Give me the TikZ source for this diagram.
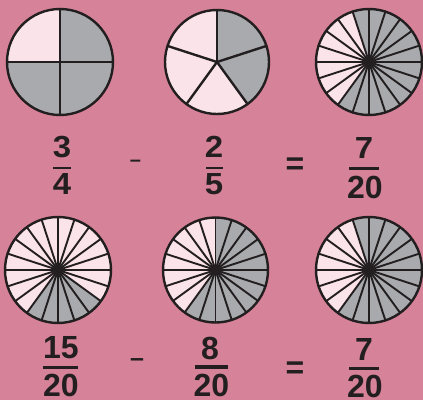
\documentclass[tikz,border=0pt]{standalone}
\usepackage{fontspec}
\setmainfont{Liberation Sans}
\begin{document}
\begin{tikzpicture}[x=1pt,y=1pt]
\definecolor{bg}{RGB}{214,130,152}
\definecolor{lpink}{RGB}{251,228,233}
\definecolor{dgray}{RGB}{168,170,173}
\definecolor{ink}{RGB}{35,31,32}
\tikzset{
  outline/.style={draw=ink, line width=2.4pt},
  spoke/.style={draw=ink, line width=1.9pt, line cap=round},
  fbar/.style={draw=ink, line width=3pt},
  numA/.style={font=\fontsize{30.5}{30.5}\selectfont\bfseries, text=ink, inner sep=0pt, xscale=1.08},
  numB/.style={font=\fontsize{32}{32}\selectfont\bfseries, text=ink, inner sep=0pt},
  opsym/.style={text=ink, inner sep=0pt, anchor=north},
}
\fill[bg] (0,0) rectangle (423,400);
\useasboundingbox (0,0) rectangle (423,400);

% centres
\coordinate (c1) at (60,338);
\coordinate (c2) at (217,338);
\coordinate (c3) at (369,338);
\coordinate (c4) at (58,130);
\coordinate (c5) at (215.5,130);
\coordinate (c6) at (369,130);

% circle 1: quarters
\fill[lpink] (c1) circle (53pt);
\fill[dgray] (c1) -- ++(180:53pt) arc (180:450:53pt) -- cycle;
\foreach \a in {0,90,180,270} \draw[spoke, line width=2.6pt] (c1) -- ++(\a:53pt);
\draw[outline] (c1) circle (53pt);

% circle 2: fifths
\fill[lpink] (c2) circle (52pt);
\fill[dgray] (c2) -- ++(-54:52pt) arc (-54:90:52pt) -- cycle;
\foreach \k in {0,...,4} \draw[spoke, line width=2.4pt] (c2) -- ++({90-72*\k}:52pt);
\draw[outline] (c2) circle (52pt);

% circle 3: twentieths
\fill[dgray] (c3) circle (53pt);
\fill[lpink] (c3) -- ++(108:53pt) arc (108:234:53pt) -- cycle;
\foreach \k in {0,...,19} \draw[spoke] (c3) -- ++({90+18*\k}:53pt);
\fill[ink] (c3) circle (5.5pt);
\draw[outline] (c3) circle (53pt);

% circle 4
\fill[lpink] (c4) circle (53pt);
\fill[dgray] (c4) -- ++(234:53pt) arc (234:324:53pt) -- cycle;
\foreach \k in {0,...,19} \draw[spoke] (c4) -- ++({90+18*\k}:53pt);
\fill[ink] (c4) circle (5.5pt);
\draw[outline] (c4) circle (53pt);

% circle 5
\fill[dgray] (c5) circle (52.5pt);
\fill[lpink] (c5) -- ++(90:52.5pt) arc (90:234:52.5pt) -- cycle;
\foreach \k in {0,...,19} \draw[spoke] (c5) -- ++({90+18*\k}:52.5pt);
\fill[ink] (c5) circle (5.5pt);
\draw[outline] (c5) circle (52.5pt);

% circle 6
\fill[dgray] (c6) circle (53pt);
\fill[lpink] (c6) -- ++(108:53pt) arc (108:234:53pt) -- cycle;
\foreach \k in {0,...,19} \draw[spoke] (c6) -- ++({90+18*\k}:53pt);
\fill[ink] (c6) circle (5.5pt);
\draw[outline] (c6) circle (53pt);

% row 1 fractions
\node[numA] (n1) at (62,253) {3};
\node[numA] (d1) at (62,215.5) {4};
\draw[fbar, line width=2.7pt] (53.3,232) -- (70.7,232);
\node[opsym, font=\fontsize{20}{20}\selectfont\bfseries] (m1) at (135.5,240.3) {–};
\node[numA] (n2) at (214,253) {2};
\node[numA] (d2) at (214,215.5) {5};
\draw[fbar, line width=2.7pt] (206,232) -- (223,232);
\node[opsym, font=\fontsize{32}{32}\selectfont\bfseries] (e1) at (295,242.7) {=};
\node[numA] (n3) at (364,251.5) {7};
\node[numB] (d3) at (365,212.5) {20};
\draw[fbar] (349,231.5) -- (379,231.5);

% row 2 fractions
\node[numB] (n4) at (61,52) {15};
\node[numB] (d4) at (61,14.5) {20};
\draw[fbar, line width=3.3pt] (43,32.7) -- (78,32.7);
\node[opsym, font=\fontsize{25}{25}\selectfont\bfseries] (m2) at (137,41.5) {–};
\node[numB] (n5) at (210,51.5) {8};
\node[numB] (d5) at (211.5,14.5) {20};
\draw[fbar, line width=3.3pt] (195,33) -- (228,33);
\node[opsym, font=\fontsize{32}{32}\selectfont\bfseries] (e2) at (295,38.3) {=};
\node[numB] (n6) at (364,50.5) {7};
\node[numB] (d6) at (365,14) {20};
\draw[fbar, line width=3.3pt] (349,31.7) -- (379,31.7);
\end{tikzpicture}
\end{document}
